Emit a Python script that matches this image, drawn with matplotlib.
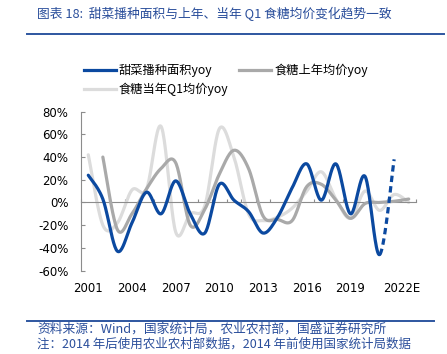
import numpy as np
import matplotlib
matplotlib.use("Agg")
import matplotlib.pyplot as plt
import matplotlib.transforms as mtransforms
from matplotlib.lines import Line2D

plt.rcParams['font.family'] = ['Noto Sans CJK SC', 'DejaVu Sans']

# ---- data (yoy, %) ----
years = [str(y) for y in range(2001, 2022)] + ["2022E", "2023E"]
area_yoy = [24, 3, -43, -18, 9, -10, 19, -10, -27, 16, 2, -8, -27, -13, 13, 34, 2, 34, -10, 23, -46, 38, None]
price_last_yoy = [None, 40, -24, -10, 12, 30, 35, -20, -6, 25, 46, 30, -12, -15, -16, 14, 16, 2, -14, -1, 0, 1, 3]
price_q1_yoy = [42, -20, -18, 11, 12, 67, -26, -10, -3, 65, 40, -10, -16, -13, -5, 10, 27, 3, -14, 10, -7, 7, 0]
label_step = 3
n_estimated = 1  # last blue segment is a forecast (dashed)

BLUE = "#0B49A0"
DGREY = "#A9A9A9"
LGREY = "#DCDCDC"
TXT_BLUE = "#2A4E9B"


def smooth(xs, ys, n=24):
    """Excel-like smoothed line (Catmull-Rom Bezier) through the points."""
    xs = np.asarray(xs, float)
    ys = np.asarray(ys, float)
    px, py = [], []
    for i in range(len(xs) - 1):
        i0, i3 = max(i - 1, 0), min(i + 2, len(xs) - 1)
        p0 = np.array([xs[i0], ys[i0]])
        p1 = np.array([xs[i], ys[i]])
        p2 = np.array([xs[i + 1], ys[i + 1]])
        p3 = np.array([xs[i3], ys[i3]])
        c1 = p1 + (p2 - p0) / 6
        c2 = p2 - (p3 - p1) / 6
        t = np.linspace(0, 1, n)[:, None]
        seg = ((1 - t) ** 3) * p1 + 3 * ((1 - t) ** 2) * t * c1 + 3 * (1 - t) * t ** 2 * c2 + t ** 3 * p2
        if i > 0:
            seg = seg[1:]
        px.append(seg[:, 0])
        py.append(seg[:, 1])
    return np.concatenate(px), np.concatenate(py)


def valid(vals):
    idx = [i for i, v in enumerate(vals) if v is not None]
    return idx, [vals[i] for i in idx]


fig = plt.figure(figsize=(4.47, 3.54), dpi=100)
ax = fig.add_axes([81 / 447, 1 - 270.5 / 354, 335 / 447, (270.5 - 111.7) / 354])

# light grey and dark grey first, blue on top
ix, iy = valid(price_q1_yoy)
sx, sy = smooth(ix, iy)
ax.plot(sx, sy, color=LGREY, lw=2.3, solid_capstyle='round', zorder=2)

ix, iy = valid(price_last_yoy)
sx, sy = smooth(ix, iy)
ax.plot(sx, sy, color=DGREY, lw=2.3, solid_capstyle='round', zorder=3)

ix, iy = valid(area_yoy)
sx, sy = smooth(ix, iy)
split = ix[-1 - n_estimated]
ax.plot(sx[sx <= split], sy[sx <= split], color=BLUE, lw=2.3, solid_capstyle='round', zorder=4)
ax.plot(sx[sx >= split], sy[sx >= split], color=BLUE, lw=2.3, ls=(0, (2.0, 1.3)), zorder=4)

# axes styling
ax.set_xlim(-0.5, len(years) - 0.5)
ax.set_ylim(-60, 80)
ax.set_yticks(np.arange(-60, 81, 20))
ax.set_yticklabels([f"{v}%" for v in range(-60, 81, 20)], family='DejaVu Sans', fontsize=8.5)
for s in ['top', 'right']:
    ax.spines[s].set_visible(False)
ax.spines['left'].set_color('#8C8C8C')
ax.spines['left'].set_linewidth(0.8)
ax.spines['bottom'].set_position(('data', 0))
ax.spines['bottom'].set_color('#8C8C8C')
ax.spines['bottom'].set_linewidth(0.8)
ax.tick_params(axis='y', direction='in', length=3, width=0.8, color='#8C8C8C', pad=9)
ax.set_xticks(np.arange(-0.5, len(years) - 0.4, 1))
ax.tick_params(axis='x', direction='in', length=2.5, width=0.8, color='#8C8C8C', labelbottom=False)

trans = mtransforms.blended_transform_factory(ax.transData, ax.transAxes)
for i in range(0, len(years), label_step):
    if i >= len(years) - 1:
        break
    # the last (estimated) label sits a little to the right, as in the source
    shift = 0.55 if years[i].endswith("E") else 0
    ax.text(i + shift, -0.075, years[i], transform=trans, ha='center', va='top',
            family='DejaVu Sans', fontsize=8.5)

# legend
handles = [
    Line2D([], [], color=BLUE, lw=2.3),
    Line2D([], [], color=LGREY, lw=2.3),
    Line2D([], [], color=DGREY, lw=2.3),
]
labels = ["甜菜播种面积yoy", "食糖当年Q1均价yoy", "食糖上年均价yoy"]
fig.legend(handles, labels, loc='upper left', bbox_to_anchor=(84 / 447, 1 - 63.5 / 354),
           ncol=2, frameon=False, fontsize=8.8, handlelength=2.6, handletextpad=0.25,
           columnspacing=0.9, labelspacing=0.45, borderpad=0, borderaxespad=0)

# title and footer
fig.text(37 / 447, 1 - 13.5 / 354, "图表 18:  甜菜播种面积与上年、当年 Q1 食糖均价变化趋势一致",
         color=TXT_BLUE, fontsize=9.2, va='center', ha='left')
fig.add_artist(Line2D([27 / 447, 444 / 447], [1 - 33.5 / 354] * 2, color='#2E56A0', lw=1.4))
fig.add_artist(Line2D([27 / 447, 434 / 447], [1 - 321 / 354] * 2, color='#2E56A0', lw=1.4))
fig.text(37 / 447, 1 - 329.5 / 354, "资料来源：Wind，国家统计局，农业农村部，国盛证券研究所",
         color=TXT_BLUE, fontsize=9.2, va='center', ha='left')
fig.text(37 / 447, 1 - 344 / 354, "注：2014 年后使用农业农村部数据，2014 年前使用国家统计局数据",
         color=TXT_BLUE, fontsize=9.0, va='center', ha='left')

fig.savefig("out.png", dpi=100)
